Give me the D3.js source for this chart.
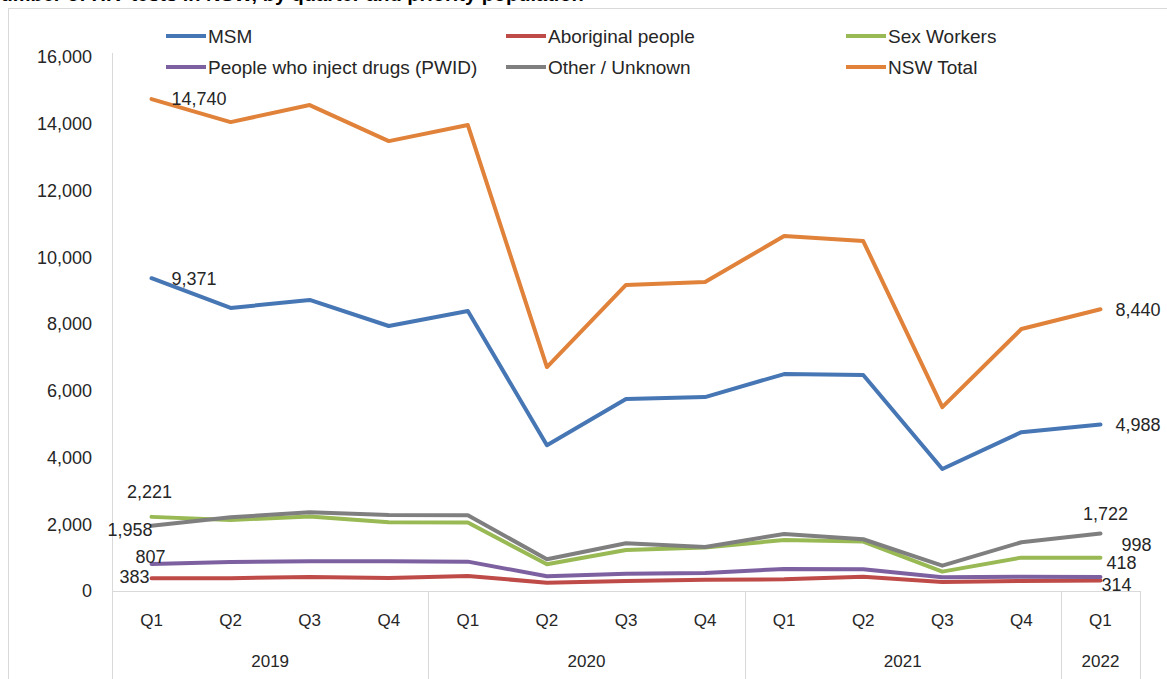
<!DOCTYPE html>
<html>
<head>
    <title>HIV tests by quarter</title>
    <script src="https://d3js.org/d3.v7.min.js"></script>
    <style>
        body { margin: 0; background: #fff; overflow: hidden; }
        text { font-family: "Liberation Sans", Arial, sans-serif; fill: #262626; }
    </style>
</head>
<body>
    <svg width="1167" height="679"></svg>
    <script>
        // categories
        var quarters = ["Q1", "Q2", "Q3", "Q4", "Q1", "Q2", "Q3", "Q4", "Q1", "Q2", "Q3", "Q4", "Q1"];
        var years = ["2019", "2019", "2019", "2019", "2020", "2020", "2020", "2020", "2021", "2021", "2021", "2021", "2022"];

        // series values
        var msm        = [9371, 8480, 8720, 7940, 8390, 4370, 5750, 5810, 6500, 6470, 3655, 4760, 4988];
        var aboriginal = [383, 385, 420, 390, 450, 250, 300, 340, 350, 430, 270, 300, 314];
        var sexWorkers = [2221, 2130, 2230, 2060, 2050, 800, 1230, 1300, 1530, 1480, 580, 1000, 998];
        var pwid       = [807, 870, 890, 890, 880, 440, 520, 540, 660, 650, 410, 430, 418];
        var other      = [1958, 2210, 2360, 2280, 2270, 950, 1430, 1320, 1710, 1550, 760, 1460, 1722];
        var nswTotal   = [14740, 14050, 14560, 13480, 13960, 6710, 9170, 9260, 10635, 10485, 5510, 7850, 8440];

        var yTicks = [0, 2000, 4000, 6000, 8000, 10000, 12000, 14000, 16000];

        var series = [
            { name: "MSM", values: msm, color: "#4676b4" },
            { name: "Aboriginal people", values: aboriginal, color: "#be4b48" },
            { name: "Sex Workers", values: sexWorkers, color: "#98b954" },
            { name: "People who inject drugs (PWID)", values: pwid, color: "#7d60a0" },
            { name: "Other / Unknown", values: other, color: "#7f7f7f" },
            { name: "NSW Total", values: nswTotal, color: "#e0823a" }
        ];

        var svg = d3.select("svg");
        var fmt = d3.format(",");

        var x = d3.scaleBand().domain(d3.range(quarters.length)).range([112, 1140]);
        var y = d3.scaleLinear().domain([0, 16000]).range([591, 57]);
        function cx(i) { return x(i) + x.bandwidth() / 2; }

        // title, cut off by the top edge in the source image
        svg.append("text")
            .attr("x", -14).attr("y", 1)
            .style("font-weight", "bold").style("font-size", "20px").style("fill", "#000")
            .text("Number of HIV tests in NSW, by quarter and priority population");

        // chart frame
        svg.append("rect")
            .attr("x", 8.5).attr("y", 8.5).attr("width", 1170).attr("height", 690)
            .attr("fill", "#fff").attr("stroke", "#d9d9d9");

        // value axis line + labels
        svg.append("line")
            .attr("x1", 112.5).attr("x2", 112.5).attr("y1", 53).attr("y2", 679)
            .attr("stroke", "#d9d9d9");

        var yAxis = svg.append("g")
            .attr("transform", "translate(92,0)")
            .call(d3.axisLeft(y).tickValues(yTicks).tickFormat(fmt).tickSize(0).tickPadding(0));
        yAxis.select(".domain").remove();
        yAxis.selectAll("text")
            .style("font-size", "18px").style("fill", "#262626")
            .style("font-family", "'Liberation Sans', Arial, sans-serif");

        // category axis
        svg.append("line")
            .attr("x1", 112).attr("x2", 1140).attr("y1", 591.5).attr("y2", 591.5)
            .attr("stroke", "#d9d9d9");

        svg.selectAll(".qlab")
            .data(quarters)
            .enter().append("text")
            .attr("class", "qlab")
            .attr("x", function(d, i) { return cx(i); })
            .attr("y", 626)
            .attr("text-anchor", "middle")
            .style("font-size", "17px")
            .text(function(d) { return d; });

        var groups = d3.groups(d3.range(years.length), function(i) { return years[i]; });
        var bounds = [112];
        groups.forEach(function(g) {
            var last = g[1][g[1].length - 1];
            bounds.push(x(last) + x.bandwidth());
        });
        svg.selectAll(".sep")
            .data(bounds)
            .enter().append("line")
            .attr("class", "sep")
            .attr("x1", function(d) { return Math.round(d) + 0.5; })
            .attr("x2", function(d) { return Math.round(d) + 0.5; })
            .attr("y1", 591).attr("y2", 679)
            .attr("stroke", "#d9d9d9");

        svg.selectAll(".ylab")
            .data(groups)
            .enter().append("text")
            .attr("class", "ylab")
            .attr("x", function(g) {
                var ids = g[1];
                return (x(ids[0]) + x(ids[ids.length - 1]) + x.bandwidth()) / 2;
            })
            .attr("y", 667)
            .attr("text-anchor", "middle")
            .style("font-size", "17px")
            .text(function(g) { return g[0]; });

        // lines
        var line = d3.line()
            .x(function(d, i) { return cx(i); })
            .y(function(d) { return y(d); });

        series.forEach(function(s) {
            svg.append("path")
                .datum(s.values)
                .attr("d", line)
                .attr("fill", "none")
                .attr("stroke", s.color)
                .attr("stroke-width", 4)
                .attr("stroke-linejoin", "round")
                .attr("stroke-linecap", "round");
        });

        // data labels at the first and last points
        var n = quarters.length - 1;
        var labels = [
            { v: nswTotal[0], i: 0, dx: 20, dy: 0, anchor: "start" },
            { v: msm[0], i: 0, dx: 20, dy: 0, anchor: "start" },
            { v: sexWorkers[0], i: 0, dx: -2, dy: -25, anchor: "middle" },
            { v: other[0], i: 0, dx: 1, dy: 4, anchor: "end" },
            { v: pwid[0], i: 0, dx: 14, dy: -7, anchor: "end" },
            { v: aboriginal[0], i: 0, dx: -2, dy: -2, anchor: "end" },
            { v: nswTotal[n], i: n, dx: 15, dy: 0, anchor: "start" },
            { v: msm[n], i: n, dx: 15, dy: 0, anchor: "start" },
            { v: other[n], i: n, dx: 5, dy: -20, anchor: "middle" },
            { v: sexWorkers[n], i: n, dx: 21, dy: -13, anchor: "start" },
            { v: pwid[n], i: n, dx: 6, dy: -14, anchor: "start" },
            { v: aboriginal[n], i: n, dx: 1, dy: 4, anchor: "start" }
        ];
        svg.selectAll(".dlab")
            .data(labels)
            .enter().append("text")
            .attr("class", "dlab")
            .attr("x", function(d) { return cx(d.i) + d.dx; })
            .attr("y", function(d) { return y(d.v) + d.dy; })
            .attr("dy", "0.35em")
            .attr("text-anchor", function(d) { return d.anchor; })
            .style("font-size", "18px")
            .text(function(d) { return fmt(d.v); });

        // legend
        var legX = [166, 506, 846];
        var legY = [36, 67];
        var leg = svg.selectAll(".leg")
            .data(series)
            .enter().append("g")
            .attr("class", "leg")
            .attr("transform", function(d, i) {
                return "translate(" + legX[i % 3] + "," + legY[Math.floor(i / 3)] + ")";
            });
        leg.append("line")
            .attr("x1", 0).attr("x2", 40)
            .attr("stroke", function(d) { return d.color; })
            .attr("stroke-width", 4);
        leg.append("text")
            .attr("x", 42).attr("dy", "0.35em")
            .style("font-size", "19px")
            .text(function(d) { return d.name; });
    </script>
</body>
</html>
